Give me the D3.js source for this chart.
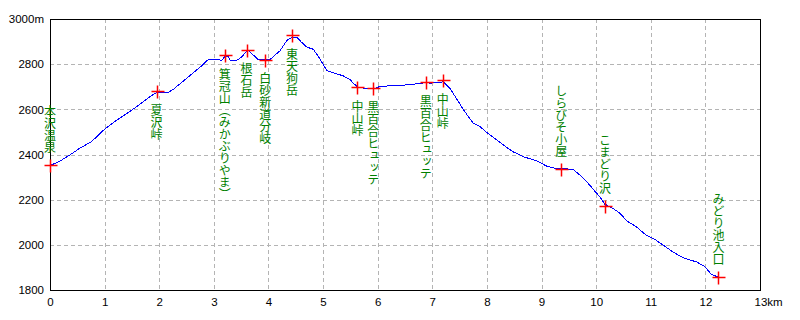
<!DOCTYPE html>
<html><head><meta charset="utf-8">
<script src="https://cdn.jsdelivr.net/npm/d3@7"></script>
<style>
html,body{margin:0;padding:0;background:#fff;}
svg{display:block;}
</style></head>
<body>
<svg id="chart" width="800" height="320"></svg>
<script>
// ---- data ----
const distanceKm = [0,0.21,0.39,0.54,0.76,1.00,1.245,1.49,1.67,1.855,1.96,2.16,2.25,2.47,2.75,2.90,3.05,3.14,3.21,3.26,3.30,3.42,3.51,3.60,3.63,3.72,3.81,3.94,4.03,4.21,4.34,4.43,4.52,4.61,4.70,4.82,4.91,5.00,5.07,5.19,5.37,5.49,5.58,5.63,5.74,5.92,6.04,6.22,6.59,6.81,6.88,6.96,7.17,7.19,7.32,7.45,7.57,7.66,7.75,7.87,8.00,8.18,8.36,8.48,8.67,8.91,9.09,9.28,9.36,9.43,9.58,9.70,9.83,9.95,10.07,10.16,10.31,10.44,10.56,10.74,10.92,11.05,11.23,11.41,11.59,11.84,11.99,12.11,12.24];
const elevationM = [2350,2375,2402,2427,2457,2512,2556,2595,2627,2660,2675,2675,2687,2731,2787,2821,2821,2817,2835,2836,2817,2817,2832,2858,2861,2841,2821,2819,2821,2859,2906,2918,2918,2896,2876,2866,2836,2799,2772,2762,2748,2732,2710,2699,2694,2690,2701,2704,2709,2716,2719,2716,2719,2724,2694,2645,2598,2568,2539,2524,2497,2464,2432,2412,2390,2372,2349,2337,2336,2337,2334,2309,2279,2245,2212,2180,2161,2139,2106,2079,2042,2028,1998,1968,1943,1924,1904,1869,1857];

const pointNames = ["本沢温泉","夏沢峠","箕冠山（みかぶりやま）","根石岳","白砂新道分岐","東天狗岳","中山峠","黒百合ヒュッテ","黒百合ヒュッテ","中山峠","しらびそ小屋","こまどり沢","みどり池入口"];
const pointKm    = [0,1.95,3.2,3.6,3.94,4.43,5.63,5.92,6.88,7.19,9.36,10.16,12.24];
const pointElev  = [2353,2679,2839,2864,2820,2927,2699,2694,2721,2728,2334,2172,1857];
const labelSide  = ["above","below","below","below","below","below","below","below","below","below","above","above","above"];

const xTicks = [0,1,2,3,4,5,6,7,8,9,10,11,12,13];
const yTicks = [1800,2000,2200,2400,2600,2800,3000];

// ---- drawing ----
const svg = d3.select("#chart");
const x = d3.scaleLinear().domain([0,13]).range([50,760]);
const y = d3.scaleLinear().domain([1800,3000]).range([290,19]);
const numFont = "'Liberation Sans', Arial, sans-serif";
const jpFont = "'Noto Sans CJK JP', sans-serif";

// grid
svg.append("g").selectAll("line").data(xTicks.slice(1,-1)).join("line")
  .attr("x1",d=>Math.round(x(d))+0.5).attr("x2",d=>Math.round(x(d))+0.5)
  .attr("y1",19).attr("y2",290)
  .attr("stroke","#b4b4b4").attr("stroke-dasharray","4,3");
svg.append("g").selectAll("line").data(yTicks.slice(1,-1)).join("line")
  .attr("y1",d=>Math.round(y(d))+0.5).attr("y2",d=>Math.round(y(d))+0.5)
  .attr("x1",50).attr("x2",760)
  .attr("stroke","#b4b4b4").attr("stroke-dasharray","4,3");

// frame
svg.append("rect").attr("x",50.5).attr("y",19.5).attr("width",710).attr("height",271)
  .attr("fill","none").attr("stroke","#000").attr("stroke-width",1);

// axes labels via d3 axes (no tick lines)
const yAxis = d3.axisLeft(y).tickValues(yTicks).tickSize(0).tickPadding(6)
  .tickFormat(d=> d===3000 ? "3000m" : String(d));
const gy = svg.append("g").attr("transform","translate(50,0)").call(yAxis);
gy.select(".domain").remove();
gy.selectAll("text").attr("font-family",numFont).attr("font-size",11.5).attr("fill","#000");

const xAxis = d3.axisBottom(x).tickValues(xTicks).tickSize(0).tickPadding(8)
  .tickFormat(d=> d===13 ? "13km" : String(d));
const gx = svg.append("g").attr("transform","translate(0,290)").call(xAxis);
gx.select(".domain").remove();
gx.selectAll("text").attr("font-family",numFont).attr("font-size",11.5).attr("fill","#000");
gx.selectAll(".tick").filter(d=>d===13).select("text").attr("text-anchor","start").attr("dx",-6);

// profile line
const pts = distanceKm.map((d,i)=>[d,elevationM[i]]);
svg.append("path").datum(pts)
  .attr("d", d3.line().x(d=>x(d[0])).y(d=>y(d[1])))
  .attr("fill","none").attr("stroke","#0000ff").attr("stroke-width",1)
  .attr("shape-rendering","crispEdges");

// waypoints
const wp = pointNames.map((n,i)=>({name:n,km:pointKm[i],elev:pointElev[i],side:labelSide[i]}));
svg.append("g").selectAll("path").data(wp).join("path")
  .attr("d", d=>{const cx=Math.round(x(d.km))+0.5, cy=Math.round(y(d.elev))+0.5;
    return `M${cx-6},${cy}H${cx+7}M${cx},${cy-6}V${cy+7}`;})
  .attr("stroke","#ff0000").attr("stroke-width",1.5).attr("fill","none");

svg.append("g").selectAll("text").data(wp).join("text")
  .attr("x", d=>x(d.km))
  .attr("y", d=> d.side==="below" ? y(d.elev)+13 : y(d.elev)-12)
  .attr("text-anchor", d=> d.side==="below" ? "start" : "end")
  .style("writing-mode","vertical-rl")
  .attr("font-family",jpFont).attr("font-size",12).attr("fill","#008000")
  .text(d=>d.name);
</script>
</body></html>
